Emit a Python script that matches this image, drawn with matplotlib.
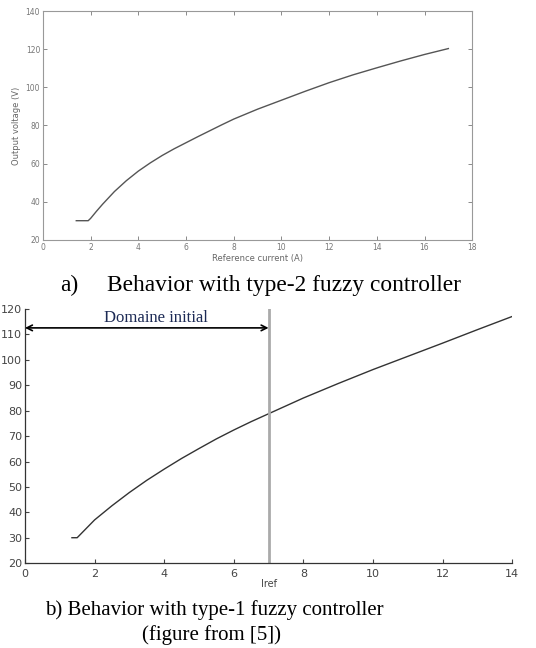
#!/usr/bin/env python3
"""Output voltage vs reference current, type-2 vs type-1 fuzzy controller."""

import matplotlib

matplotlib.use("Agg")
import matplotlib.pyplot as plt

# a) type-2 fuzzy controller (read off the picture)
t2_current = [1.4, 1.9, 2.0, 2.25, 2.5, 3.0, 3.5, 4.0, 4.5, 5.0, 5.5, 6.0, 6.5,
              7.0, 7.5, 8.0, 9.0, 10.0, 11.0, 12.0, 13.0, 14.0, 15.0, 16.0, 17.0]
t2_voltage = [30.0, 30.0, 31.2, 35.0, 38.6, 45.3, 51.0, 56.0, 60.3, 64.2, 67.7,
              70.9, 74.1, 77.2, 80.3, 83.3, 88.5, 93.2, 97.9, 102.4, 106.5,
              110.2, 113.8, 117.2, 120.3]

# b) type-1 fuzzy controller
t1_current = [1.35, 1.5, 1.75, 2.0, 2.5, 3.0, 3.5, 4.0, 4.5, 5.0, 5.5, 6.0, 6.5,
              7.0, 8.0, 9.0, 10.0, 11.0, 12.0, 13.0, 14.0]
t1_voltage = [30.0, 30.0, 33.5, 37.0, 42.6, 47.8, 52.6, 57.0, 61.2, 65.1, 68.9,
              72.4, 75.7, 78.8, 85.0, 90.7, 96.2, 101.4, 106.6, 111.9, 117.1]

domain_limit = 7.0
arrow_y = 112.6

fig = plt.figure(figsize=(5.36, 6.48), dpi=100)

# ---- top panel
ax1 = fig.add_axes([0.080, 0.630, 0.801, 0.353])
ax1.plot(t2_current, t2_voltage, color="#555555", linewidth=1.0)
ax1.set_xlim(0, 18)
ax1.set_ylim(20, 140)
ax1.set_xticks(range(0, 19, 2))
ax1.set_yticks(range(20, 141, 20))
ax1.tick_params(direction="in", top=True, right=True, length=3, width=0.6,
                labelsize=5.5, colors="#777777", pad=2)
ax1.set_xlabel("Reference current (A)", fontsize=6, color="#666666", labelpad=2)
ax1.set_ylabel("Output voltage (V)", fontsize=6, color="#666666", labelpad=3)
for spine in ax1.spines.values():
    spine.set_color("#999999")
    spine.set_linewidth(0.8)

fig.text(60 / 536, 1 - 285 / 648, "a)", family="Liberation Serif",
         fontsize=16.8, va="center", ha="left")
fig.text(107 / 536, 1 - 285 / 648, "Behavior with type-2 fuzzy controller",
         family="Liberation Serif", fontsize=16.8, va="center", ha="left")

# ---- bottom panel
ax2 = fig.add_axes([0.0466, 0.131, 0.909, 0.392])
ax2.plot(t1_current, t1_voltage, color="#333333", linewidth=1.0)
ax2.axvline(domain_limit, color="#aaaaaa", linewidth=2.0)
ax2.annotate("", xy=(0, arrow_y), xytext=(domain_limit, arrow_y),
             arrowprops=dict(arrowstyle="<->", color="black", lw=1.2,
                             shrinkA=0, shrinkB=0))
ax2.text(3.75, 116.3, "Domaine initial", family="Liberation Serif",
         fontsize=12, color="#1c2a55", ha="center", va="center")
ax2.set_xlim(0, 14)
ax2.set_ylim(20, 120)
ax2.set_xticks(range(0, 15, 2))
ax2.set_yticks(range(20, 121, 10))
ax2.tick_params(direction="in", length=3, width=0.8, labelsize=8,
                colors="#444444", pad=2)
ax2.tick_params(axis="x", pad=4)
ax2.set_xlabel("Iref", fontsize=7, color="#444444", labelpad=0)
ax2.spines["top"].set_visible(False)
ax2.spines["right"].set_visible(False)
for side in ("left", "bottom"):
    ax2.spines[side].set_color("#333333")
    ax2.spines[side].set_linewidth(0.9)

fig.text(214 / 536, 1 - 610 / 648, "b) Behavior with type-1 fuzzy controller",
         family="Liberation Serif", fontsize=15, va="center", ha="center")
fig.text(212 / 536, 1 - 635 / 648, "(figure from [5])",
         family="Liberation Serif", fontsize=15, va="center", ha="center")

fig.savefig("out.png", dpi=100, facecolor="white")
